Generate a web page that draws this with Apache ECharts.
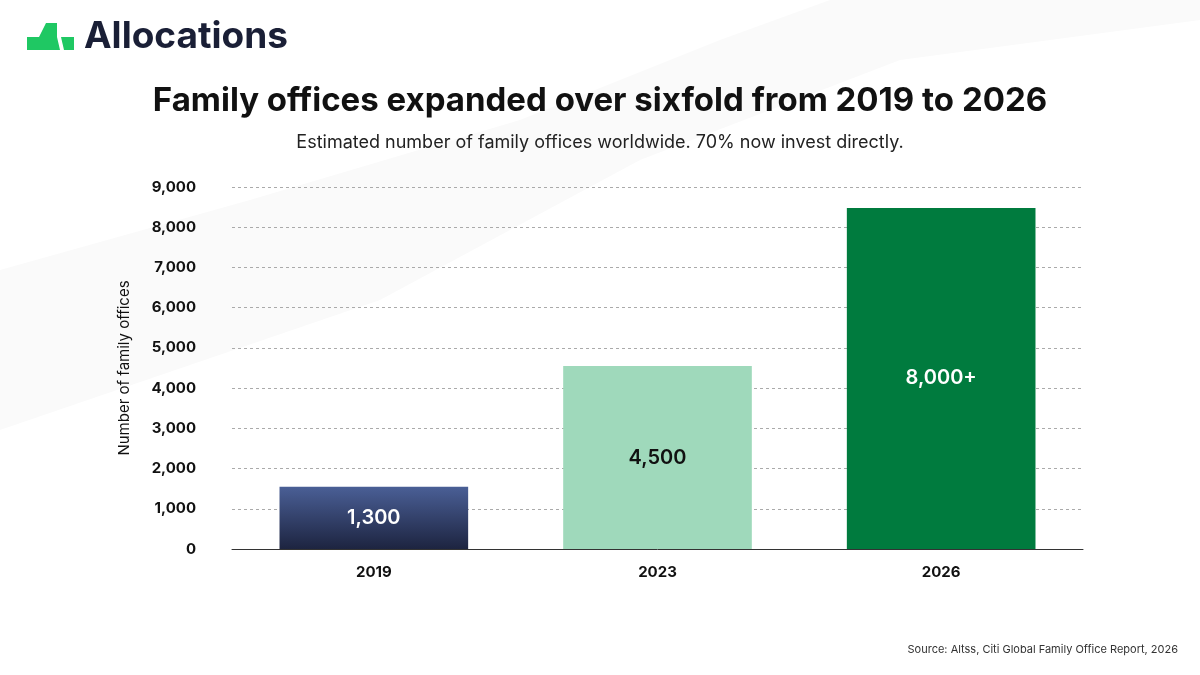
<!DOCTYPE html>
<html>
<head>
<meta charset="utf-8">
<script src="https://cdn.jsdelivr.net/npm/echarts@6/dist/echarts.min.js"></script>
<style>
  html, body { margin: 0; padding: 0; background: #fff; }
  #chart { width: 1200px; height: 675px; }
</style>
</head>
<body>
<div id="chart"></div>
<script>
// data
const years = ['2019', '2023', '2026']
const barHeights = [1550, 4550, 8480]          // bar heights as drawn
const barLabels = ['1,300', '4,500', '8,000+']  // printed labels
const yTicks = [0, 1000, 2000, 3000, 4000, 5000, 6000, 7000, 8000, 9000]

const labelColors = ['#ffffff', '#111111', '#ffffff']
const barColors = [
  new echarts.graphic.LinearGradient(0, 0, 0, 1, [
    { offset: 0, color: '#4a5f96' },
    { offset: 1, color: '#1d2440' }
  ]),
  '#9fd9bb',
  '#007b3e'
]

const font = 'Inter, "Noto Sans", sans-serif'

let chart = echarts.init(document.getElementById('chart'))

const option = {
  backgroundColor: '#ffffff',
  animation: false,
  graphic: [
    // faint background swoosh
    {
      type: 'polygon', silent: true, z: -10,
      shape: { points: [[0, 270], [250, 200], [520, 120], [720, 40], [830, 0], [1200, 0], [1200, 20], [900, 60], [640, 160], [380, 300], [0, 430]] },
      style: { fill: '#fafafa' }
    },
    // logo mark
    {
      type: 'polygon',
      shape: { points: [[27, 50], [27, 37], [39, 37], [46, 23], [57, 23], [57, 37], [60, 50]] },
      style: { fill: '#1fc863' }
    },
    {
      type: 'polygon',
      shape: { points: [[61, 37], [74, 37], [74, 50], [64, 50]] },
      style: { fill: '#1fc863' }
    },
    {
      type: 'text', left: 84, top: 18,
      style: { text: 'Allocations', font: '700 37px ' + font, fill: '#1a1f36' }
    },
    {
      type: 'text', right: 22, top: 644,
      style: { text: 'Source: Altss, Citi Global Family Office Report, 2026', font: '11px ' + font, fill: '#333' }
    }
  ],
  title: {
    text: 'Family offices expanded over sixfold from 2019 to 2026',
    subtext: 'Estimated number of family offices worldwide. 70% now invest directly.',
    left: 'center',
    top: 80,
    itemGap: 16,
    textStyle: { fontFamily: font, fontSize: 33, fontWeight: 700, color: '#111' },
    subtextStyle: { fontFamily: font, fontSize: 18, color: '#222' }
  },
  grid: { left: 232, right: 117, top: 187, bottom: 126 },
  xAxis: {
    type: 'category',
    data: years,
    axisLine: { lineStyle: { color: '#333', width: 1 } },
    axisTick: { show: false },
    axisLabel: { fontFamily: font, fontSize: 15, fontWeight: 700, color: '#111', margin: 16 }
  },
  yAxis: {
    type: 'value',
    min: 0, max: 9000, interval: 1000,
    name: 'Number of family offices',
    nameLocation: 'middle',
    nameGap: 100,
    nameTextStyle: { fontFamily: font, fontSize: 15, color: '#111' },
    axisLine: { show: false },
    axisTick: { show: false },
    axisLabel: {
      fontFamily: font, fontSize: 15, fontWeight: 700, color: '#111', margin: 36,
      formatter: v => yTicks.includes(v) ? v.toLocaleString('en-US') : ''
    },
    splitLine: { lineStyle: { color: '#aaa', type: [3, 3], width: 1 } }
  },
  series: [{
    type: 'bar',
    barWidth: '66.5%',
    data: barHeights.map((v, i) => ({
      value: v,
      itemStyle: { color: barColors[i] },
      label: { color: labelColors[i] }
    })),
    label: {
      show: true,
      position: 'inside',
      fontFamily: font, fontSize: 20, fontWeight: 600,
      formatter: p => barLabels[p.dataIndex]
    }
  }]
}

chart.setOption(option)
</script>
</body>
</html>
